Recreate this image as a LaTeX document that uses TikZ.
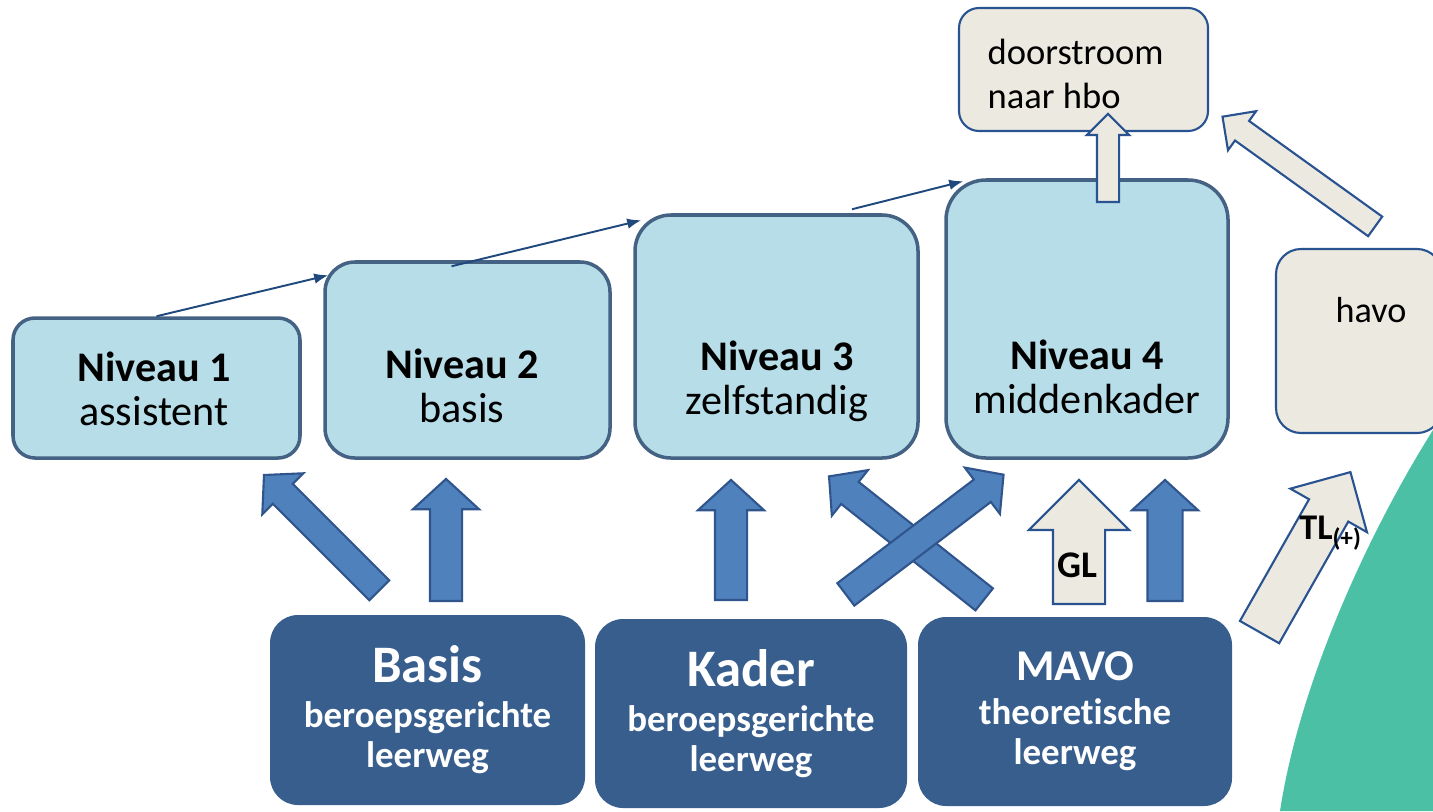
\documentclass[tikz,border=0pt]{standalone}
\usepackage{fontspec}
\setmainfont{Carlito}[Ligatures=NoCommon]
\usepackage{tikz}
\usetikzlibrary{shapes, arrows.meta}
\definecolor{nivfill}{RGB}{183, 221, 232}
\definecolor{nivline}{RGB}{68, 98, 132}
\definecolor{lightfill}{RGB}{236, 234, 224}
\definecolor{lightline}{RGB}{41, 82, 145}
\definecolor{leerblue}{RGB}{56, 94, 142}
\definecolor{arrowfill}{RGB}{79, 129, 189}
\definecolor{arrowline}{RGB}{47, 85, 140}
\definecolor{thinline}{RGB}{31, 73, 125}
\definecolor{tealc}{RGB}{75, 192, 165}

\begin{document}
\begin{tikzpicture}[
  nivbox/.style={draw=nivline, fill=nivfill, line width=1pt},
  lightbox/.style={draw=lightline, fill=lightfill, line width=0.6pt},
  leerbox/.style={fill=leerblue, text=white, align=center, rounded corners=0.28cm, font=\fontsize{10.5}{11.4}\selectfont\bfseries},
  nivtext/.style={align=center, inner sep=0pt, font=\fontsize{12}{12.5}\selectfont},
  bluearrow/.style={single arrow, draw=arrowline, fill=arrowfill, line width=0.6pt, inner xsep=0pt, inner ysep=0.13cm, anchor=tail, single arrow tip angle=95, single arrow head extend=0.15cm},
  lightarrow/.style={single arrow, draw=lightline, fill=lightfill, line width=0.6pt, inner xsep=0pt, anchor=tail, single arrow tip angle=90},
  thinarrow/.style={draw=thinline, line width=0.55pt, -{Latex[length=4pt, width=3pt]}}
]
  \clip (0,0) rectangle (14.33,-8.11);

  % Background
  \fill[tealc] (14.33,-4.30) .. controls (13.7,-5.3) and (13.0,-6.8) .. (12.80,-8.11) -- (14.33,-8.11) -- cycle;

  % Niveaus
  \node[nivbox, rounded corners=0.22cm, minimum width=2.87cm, minimum height=1.40cm] (niv1) at (1.565,-3.88) {};
  \node[nivtext] (niv1txt) at (1.54,-3.89) {\textbf{Niveau 1}\\assistent};
  \node[nivbox, rounded corners=0.30cm, minimum width=2.85cm, minimum height=1.96cm] (niv2) at (4.675,-3.60) {};
  \node[nivtext] (niv2txt) at (4.62,-3.86) {\textbf{Niveau 2}\\basis};
  \node[nivbox, rounded corners=0.36cm, minimum width=2.83cm, minimum height=2.43cm] (niv3) at (7.765,-3.365) {};
  \node[nivtext] (niv3txt) at (7.77,-3.815) {\textbf{Niveau 3}\\zelfstandig};
  \node[nivbox, rounded corners=0.40cm, minimum width=2.82cm, minimum height=2.78cm] (niv4) at (10.87,-3.19) {};
  \node[nivtext] (niv4txt) at (10.87,-3.77) {\textbf{Niveau 4}\\middenkader};

  % Vervolg
  \node[lightbox, rounded corners=0.20cm, minimum width=2.49cm, minimum height=1.23cm] (hbo) at (10.835,-0.695) {};
  \node[anchor=north west, inner sep=0pt, align=left, font=\fontsize{10.4}{12.5}\selectfont] (hbotxt) at (9.87,-0.38) {doorstroom\\naar hbo};
  \node[lightbox, rounded corners=0.25cm, minimum width=1.66cm, minimum height=1.84cm] (havo) at (13.59,-3.41) {};
  \node[font=\fontsize{10.3}{12}\selectfont] (havotxt) at (13.71,-3.10) {havo};

  % Leerwegen
  \node[leerbox, minimum width=3.15cm, minimum height=1.90cm] (basis) at (4.275,-7.10) {{\fontsize{15}{18}\selectfont Basis}\\[1.4pt]beroepsgerichte\\leerweg};
  \node[leerbox, minimum width=3.12cm, minimum height=1.89cm] (kader) at (7.51,-7.135) {{\fontsize{15}{18}\selectfont Kader}\\[1.4pt]beroepsgerichte\\leerweg};
  \node[leerbox, minimum width=3.14cm, minimum height=1.89cm] (mavo) at (10.75,-7.115) {{\fontsize{12.5}{15}\selectfont MAVO}\\[1pt]theoretische\\leerweg};

  % Thin arrows between niveaus
  \draw[thinarrow] (niv1.north) -- ([xshift=0.05cm, yshift=-0.15cm]niv2.north west);
  \draw[thinarrow] ([xshift=-0.16cm, yshift=-0.06cm]niv2.north) -- ([xshift=0.08cm, yshift=-0.07cm]niv3.north west);
  \draw[thinarrow] ([xshift=0.755cm, yshift=0.04cm]niv3.north) -- ([xshift=0.19cm, yshift=-0.03cm]niv4.north west);

  % Block arrows
  \node[bluearrow, minimum height=1.63cm, rotate=135] (basisleft) at (3.80,-5.91) {};
  \node[bluearrow, minimum height=1.22cm, inner ysep=0.15cm, single arrow head extend=0.17cm, rotate=90] (basisup) at (4.46,-6.02) {};
  \node[bluearrow, minimum height=1.20cm, inner ysep=0.15cm, single arrow head extend=0.17cm, rotate=90] (kaderup) at (7.31,-6.01) {};
  \node[bluearrow, minimum height=1.98cm, rotate=141.6] (mavoleft) at (9.85,-6.00) {};
  \node[bluearrow, minimum height=1.98cm, rotate=37.2] (kaderright) at (8.45,-5.95) {};
  \node[lightarrow, minimum height=1.24cm, inner ysep=0.25cm, single arrow head extend=0.24cm, rotate=90] (glarrow) at (10.79,-6.05) {};
  \node[font=\fontsize{10.7}{12}\selectfont\bfseries] (gltxt) at (10.77,-5.65) {GL};
  \node[bluearrow, minimum height=1.21cm, inner ysep=0.165cm, single arrow head extend=0.155cm, rotate=90] (mavoup) at (11.65,-6.02) {};
  \node[lightarrow, minimum height=1.84cm, inner ysep=0.215cm, single arrow head extend=0.215cm, rotate=60.4] (tlarrow) at (12.59,-6.33) {};
  \node[font=\fontsize{10.3}{12}\selectfont\bfseries] (tltxt) at (13.31,-5.33) {TL\textsubscript{(+)}};
  \node[lightarrow, minimum height=0.88cm, inner ysep=0.10cm, single arrow head extend=0.10cm, rotate=90] (hboup) at (11.08,-2.03) {};
  \node[lightarrow, minimum height=1.88cm, inner ysep=0.11cm, single arrow head extend=0.12cm, rotate=144.3] (havoup) at (13.76,-2.27) {};
\end{tikzpicture}
\end{document}
